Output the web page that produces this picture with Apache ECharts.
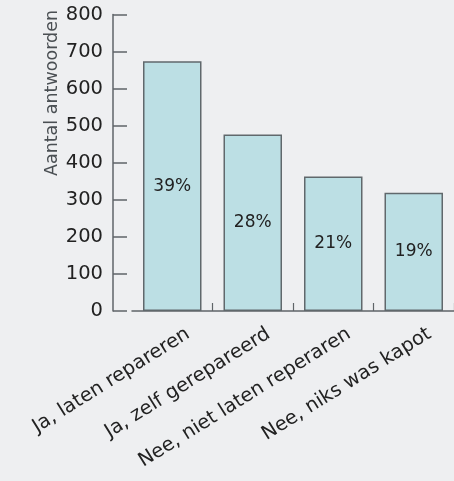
<!DOCTYPE html>
<html>
<head>
<meta charset="utf-8">
<script src="https://cdn.jsdelivr.net/npm/echarts@6/dist/echarts.min.js"></script>
<style>
  html, body { margin: 0; padding: 0; background: #eeeff1; }
  #chart { width: 454px; height: 481px; }
</style>
</head>
<body>
<div id="chart"></div>
<script>
// Antwoorden per categorie
const categories = [
  'Ja, laten repareren',
  'Ja, zelf gerepareerd',
  'Nee, niet laten reperaren',
  'Nee, niks was kapot'
];
const counts = [674, 476, 363, 319];
const shares = ['39%', '28%', '21%', '19%'];
const yTicks = [0, 100, 200, 300, 400, 500, 600, 700, 800];

const FONT = 'DejaVu Sans';
const INK = '#222222';
const AXIS = '#5f6468';

const chart = echarts.init(document.getElementById('chart'), null, { renderer: 'canvas' });

chart.setOption({
  backgroundColor: '#eeeff1',
  animation: false,
  grid: { left: 132, right: -2, top: 14.5, bottom: 170, containLabel: false },
  xAxis: {
    type: 'category',
    data: categories,
    boundaryGap: true,
    axisLine: { show: true, lineStyle: { color: AXIS, width: 1.5 } },
    axisTick: {
      show: true, inside: true, length: 8,
      interval: (i) => i !== 0,
      lineStyle: { color: AXIS, width: 1.2 }
    },
    axisLabel: {
      interval: 0,
      rotate: 32,
      align: 'right',
      verticalAlign: 'middle',
      margin: -4,
      // the tall line box pushes each slanted label down along its own axis
      formatter: (v) => '{s|' + v + '}',
      rich: {
        s: {
          fontFamily: FONT,
          fontSize: 19.5,
          color: INK,
          lineHeight: 80,
          verticalAlign: 'bottom'
        }
      }
    }
  },
  yAxis: {
    type: 'value',
    min: yTicks[0],
    max: yTicks[yTicks.length - 1],
    interval: yTicks[1] - yTicks[0],
    offset: 19,
    name: 'Aantal antwoorden',
    nameLocation: 'end',
    nameGap: 4.5,
    nameRotate: 90,
    nameTextStyle: {
      fontFamily: FONT,
      fontSize: 17.5,
      color: '#4a4f53',
      align: 'right',
      verticalAlign: 'bottom',
      padding: [0, 0, 52, 0]
    },
    splitLine: { show: false },
    axisLine: { show: true, lineStyle: { color: AXIS, width: 1.5 } },
    axisTick: { show: true, inside: true, length: 14, lineStyle: { color: AXIS, width: 1.5 } },
    axisLabel: {
      margin: 10,
      fontFamily: FONT,
      fontSize: 19.5,
      color: INK,
      padding: [6, 0, 0, 0]
    }
  },
  series: [{
    type: 'bar',
    data: counts,
    barWidth: 58.5,
    itemStyle: {
      color: '#bcdfe4',
      borderColor: '#60686c',
      borderWidth: 1.5
    },
    label: {
      show: true,
      position: 'inside',
      formatter: (p) => shares[p.dataIndex],
      fontFamily: FONT,
      fontSize: 17,
      color: INK
    }
  }]
});
</script>
</body>
</html>
